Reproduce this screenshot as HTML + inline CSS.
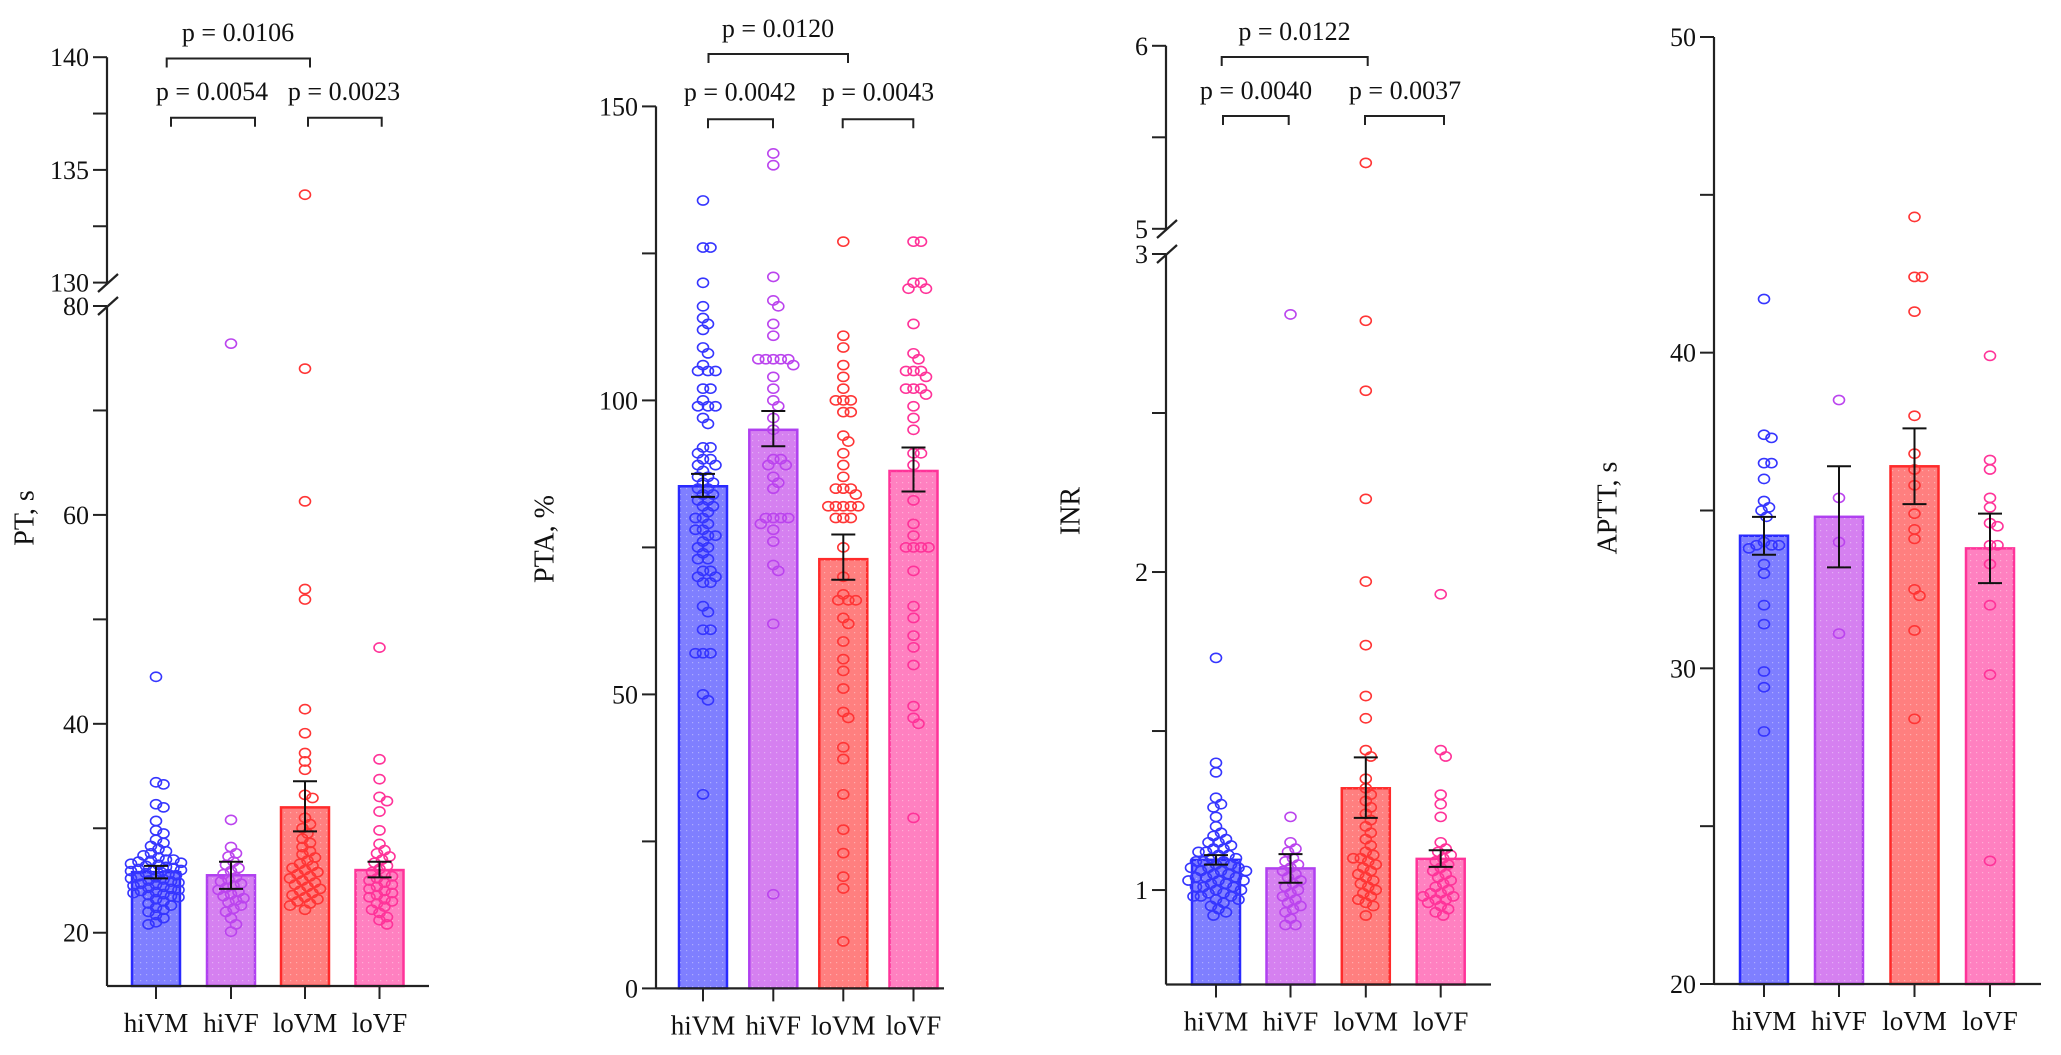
<!DOCTYPE html>
<html><head><meta charset="utf-8"><style>
html,body{margin:0;padding:0;background:#fff;}
svg{display:block;font-family:"Liberation Serif",serif;}
</style></head><body>
<svg id="chart" xmlns="http://www.w3.org/2000/svg" width="2061" height="1055" viewBox="0 0 2061 1055">
<defs>
<pattern id="dots" width="6" height="6" patternUnits="userSpaceOnUse"><rect x="2" y="2" width="1.2" height="1.2" fill="#ffffff" opacity="0.35"/></pattern>
</defs>
</svg>
<script>
const categories = ["hiVM","hiVF","loVM","loVF"];
// PT, s
const ptMeans = [25.8, 25.5, 32.0, 26.0];
const ptErrLo = [25.2, 24.2, 29.7, 25.3];
const ptErrHi = [26.4, 26.8, 34.5, 26.8];
const ptHiVM = [44.5,34.4,34.2,32.3,32.0,30.7,29.8,29.5,28.9,28.6,28.3,28.0,27.8,27.6,27.4,27.2,27.0,27.0,26.9,26.8,26.7,26.6,26.5,26.4,26.3,26.2,26.1,26.0,26.0,25.9,25.8,25.7,25.6,25.5,25.4,25.3,25.2,25.1,25.0,24.9,24.8,24.7,24.6,24.5,24.4,24.3,24.2,24.1,24.0,23.9,23.8,23.7,23.6,23.5,23.4,23.2,23.0,22.8,22.6,22.4,22.2,22.0,21.7,21.4,21.0,20.8];
const ptHiVF = [76.4,30.8,28.2,27.6,27.3,26.8,26.5,26.2,25.9,25.6,25.3,25.1,24.9,24.7,24.5,24.3,24.1,23.9,23.7,23.5,23.3,23.1,22.9,22.6,22.3,22.0,21.4,20.8,20.1];
const ptLoVM = [133.9,74.0,61.3,52.9,51.9,41.4,39.1,37.2,36.4,35.6,33.2,32.9,31.0,30.4,30.0,29.5,29.0,28.6,28.2,27.8,27.5,27.2,26.9,26.6,26.4,26.2,26.0,25.8,25.6,25.4,25.2,25.0,24.8,24.6,24.4,24.2,24.0,23.8,23.6,23.4,23.2,23.0,22.8,22.6,22.2];
const ptLoVF = [47.3,36.6,34.7,33.0,32.6,31.6,29.8,28.5,27.9,27.6,27.3,27.0,26.7,26.4,26.1,25.8,25.6,25.4,25.2,25.0,24.8,24.6,24.4,24.2,24.0,23.8,23.6,23.4,23.2,23.0,22.8,22.5,22.2,21.9,21.5,21.2,20.8];
// PTA, %
const ptaMeans = [85.4, 95.0, 73.0, 88.0];
const ptaErrLo = [83.6, 92.2, 69.5, 84.5];
const ptaErrHi = [87.5, 98.2, 77.2, 92.0];
const ptaHiVM = [134,126,126,120,116,114,112,113,109,108,106,105,105,105,102,102,100,99,99,99,97,96,92,92,91,90,90,89,89,88,87,87,86,86,85,85,84,84,83,83,82,82,81,80,80,79,78,78,77,77,76,75,75,74,73,73,71,71,70,70,69,69,65,64,61,61,57,57,57,50,49,33];
const ptaHiVF = [142,140,121,117,116,113,111,107,107,107,107,107,106,104,102,100,99,97,95,90,90,89,89,87,86,85,80,80,80,80,79,78,76,72,71,62,16];
const ptaLoVM = [127,111,109,106,104,102,100,100,100,98,98,94,93,91,89,87,85,85,85,84,82,82,82,82,82,80,80,80,75,70,67,66,66,66,63,62,59,56,54,51,47,46,41,39,33,27,23,19,17,8];
const ptaLoVF = [127,127,120,120,119,119,113,108,107,105,105,105,104,102,102,102,101,99,97,95,91,91,89,83,79,77,75,75,75,75,71,65,63,60,58,55,48,46,45,29];
// INR
const inrMeans = [1.095, 1.068, 1.32, 1.098];
const inrErrLo = [1.08, 1.023, 1.227, 1.073];
const inrErrHi = [1.11, 1.113, 1.417, 1.125];
const inrHiVM = [1.73,1.40,1.37,1.29,1.27,1.26,1.23,1.20,1.18,1.17,1.16,1.15,1.15,1.14,1.13,1.12,1.12,1.11,1.10,1.10,1.09,1.09,1.08,1.08,1.07,1.07,1.06,1.06,1.05,1.05,1.04,1.04,1.03,1.03,1.02,1.02,1.01,1.01,1.00,1.00,0.99,0.99,0.98,0.98,0.97,0.97,0.96,0.95,0.94,0.93,0.92,1.11,1.13,1.06,1.04,1.01,0.98,1.09,1.07,1.03];
const inrHiVF = [2.81,1.23,1.15,1.13,1.12,1.10,1.09,1.08,1.07,1.06,1.05,1.04,1.03,1.02,1.01,1.00,0.99,0.98,0.97,0.96,0.95,0.94,0.93,0.91,0.89,0.89];
const inrLoVM = [5.36,2.79,2.57,2.23,1.97,1.77,1.61,1.54,1.44,1.42,1.35,1.32,1.30,1.28,1.26,1.24,1.22,1.20,1.18,1.16,1.14,1.12,1.11,1.10,1.10,1.09,1.08,1.07,1.06,1.05,1.04,1.03,1.02,1.01,1.00,0.99,0.98,0.97,0.96,0.95,0.92];
const inrLoVF = [1.93,1.44,1.42,1.30,1.27,1.23,1.15,1.13,1.12,1.11,1.10,1.09,1.08,1.07,1.06,1.05,1.04,1.03,1.02,1.01,1.00,0.99,0.99,0.98,0.98,0.97,0.97,0.96,0.95,0.94,0.93,0.92];
// APTT, s
const apttMeans = [34.2, 34.8, 36.4, 33.8];
const apttErrLo = [33.6, 33.2, 35.2, 32.7];
const apttErrHi = [34.8, 36.4, 37.6, 34.9];
const apttHiVM = [41.7,37.4,37.3,36.5,36.5,36.0,35.3,35.1,35.0,34.8,34.0,33.9,33.9,33.9,33.8,33.3,33.0,32.0,31.4,29.9,29.4,28.0];
const apttHiVF = [38.5,35.4,34.0,31.1];
const apttLoVM = [44.3,42.4,42.4,41.3,38.0,36.8,36.3,35.8,34.9,34.4,34.1,32.5,32.3,31.2,28.4];
const apttLoVF = [39.9,36.6,36.3,35.4,35.1,34.6,34.5,33.9,33.9,33.3,32.0,29.8,23.9];

const fills = ["#7f7fff","#d580f0","#ff7f7f","#ff80c0"];
const strokes = ["#2a2aff","#b040f0","#ff2a2a","#ff3399"];
const dotCols = ["#3535ff","#bb44ee","#ff3535","#ff3399"];

const svg = document.getElementById('chart');
const NS = "http://www.w3.org/2000/svg";
function mk(tag, attrs, parent){ const e=document.createElementNS(NS,tag); for(const k in attrs) e.setAttribute(k,attrs[k]); (parent||svg).appendChild(e); return e; }

const panels = [
 {name:"pt", title:"PT, s", titleX:25, titleY:518, axisX:107, xEnd:429, centers:[156,231,305,379.5],
  segs:[{v0:14.9,v1:80,y0:986,y1:306},{v0:130,v1:140,y0:282.6,y1:57.2}],
  major:[20,40,60,80,130,135,140], minor:[30,50,70,132.5,137.5], breakY:[283,306],
  means:ptMeans, lo:ptErrLo, hi:ptErrHi, pts:[ptHiVM,ptHiVF,ptLoVM,ptLoVF],
  brackets:[{x1:166.7,x2:310,y:58.5,t:"p = 0.0106",tx:238,ty:41},{x1:171,x2:255,y:117.8,t:"p = 0.0054",tx:212,ty:100},{x1:308,x2:381.7,y:117.8,t:"p = 0.0023",tx:344,ty:100}]},
 {name:"pta", title:"PTA, %", titleX:545, titleY:539, axisX:656, xEnd:944, centers:[703,773.3,843.3,913.5],
  segs:[{v0:0,v1:150,y0:988.4,y1:106.4}],
  major:[0,50,100,150], minor:[25,75,125], breakY:[],
  means:ptaMeans, lo:ptaErrLo, hi:ptaErrHi, pts:[ptaHiVM,ptaHiVF,ptaLoVM,ptaLoVF],
  brackets:[{x1:708.5,x2:848,y:54,t:"p = 0.0120",tx:778,ty:37},{x1:708,x2:773,y:119.3,t:"p = 0.0042",tx:740,ty:100.5},{x1:842.7,x2:913.3,y:119.3,t:"p = 0.0043",tx:878,ty:100.5}]},
 {name:"inr", title:"INR", titleX:1071, titleY:511, axisX:1166, xEnd:1491, centers:[1216,1290.5,1365.8,1440.7],
  segs:[{v0:0.703,v1:3,y0:984.5,y1:254},{v0:5,v1:6,y0:228.8,y1:45.8}],
  major:[1,2,3,5,6], minor:[1.5,2.5,5.5], breakY:[229,254],
  means:inrMeans, lo:inrErrLo, hi:inrErrHi, pts:[inrHiVM,inrHiVF,inrLoVM,inrLoVF],
  brackets:[{x1:1221.7,x2:1367.7,y:57,t:"p = 0.0122",tx:1294.5,ty:40},{x1:1223,x2:1288.7,y:116,t:"p = 0.0040",tx:1256,ty:99},{x1:1365,x2:1444,y:116,t:"p = 0.0037",tx:1405,ty:99}]},
 {name:"aptt", title:"APTT, s", titleX:1608, titleY:508, axisX:1714, xEnd:2041, centers:[1764,1839,1914.5,1990],
  segs:[{v0:20,v1:50,y0:984,y1:37}],
  major:[20,30,40,50], minor:[25,35,45], breakY:[],
  means:apttMeans, lo:apttErrLo, hi:apttErrHi, pts:[apttHiVM,apttHiVF,apttLoVM,apttLoVF],
  brackets:[]}
];

function yScale(p, v){
  let s = p.segs[0];
  for(const sg of p.segs){ if(v >= sg.v0) s = sg; }
  return s.y0 + (v - s.v0) * (s.y1 - s.y0) / (s.v1 - s.v0);
}

panels.forEach(p=>{
  const g = mk('g',{});
  
  
  p.means.forEach((m,i)=>{
    const cx=p.centers[i], bw=48, yb=yScale(p,m), y0=p.segs[0].y0;
    const r = mk('rect',{x:cx-bw/2,y:yb,width:bw,height:y0-yb,fill:fills[i],stroke:strokes[i],'stroke-width':2.5},g);
    
    
    mk('rect',{x:cx-bw/2,y:yb,width:bw,height:y0-yb,fill:'url(#dots)'},g);
  });
  p.pts.forEach((arr,i)=>{
    const cx=p.centers[i], rad=5.2, placed=[];
    const sorted=[...arr].sort((a,b)=>b-a);
    sorted.forEach(v=>{
      const y=yScale(p,v);
      let off=0, best=null;
      for(let k=0;k<25;k++){
        const cand = (k%2?1:-1)*Math.ceil(k/2)*2.5;
        if(Math.abs(cand)>30) break;
        const ok = placed.every(q=>{const dx=q.x-cand, dy=q.y-y; return dx*dx+dy*dy >= (2*rad)*(2*rad)*0.45;});
        if(ok){best=cand;break;}
      }
      if(best===null){ best = ((placed.length%7)-3)*8; }
      off=best;
      placed.push({x:off,y:y});
      const c = mk('ellipse',{cx:cx+off,cy:y,rx:5.5,ry:4.6,fill:'none',stroke:dotCols[i],'stroke-width':1.6},g);
      
      
    });
  });
  p.means.forEach((m,i)=>{
    const cx=p.centers[i], yl=yScale(p,p.lo[i]), yh=yScale(p,p.hi[i]);
    const e = mk('path',{d:`M${cx},${yl}V${yh}M${cx-12},${yl}H${cx+12}M${cx-12},${yh}H${cx+12}`,stroke:'#111',fill:'none','stroke-width':2},g);
    
    
  });
  const ax = p.axisX;
  let d='';
  if(p.segs.length===1){ d=`M${ax},${p.segs[0].y0}V${p.segs[0].y1}`; }
  else { d=`M${ax},${p.segs[0].y0}V${p.segs[0].y1}M${ax},${p.segs[1].y0}V${p.segs[1].y1}`; }
  const yAxis = mk('path',{d:d,stroke:'#222',fill:'none','stroke-width':2.2},g);
  
  
  p.breakY.forEach(by=>{
    const b = mk('line',{x1:ax-9,y1:by+9,x2:ax+11,y2:by-9,stroke:'#222','stroke-width':2.2},g);
    
    
  });
  const xAxis = mk('line',{x1:ax,y1:p.segs[0].y0,x2:p.xEnd,y2:p.segs[0].y0,stroke:'#222','stroke-width':2.2},g);
  
  
  p.major.forEach(v=>{
    const y=yScale(p,v);
    mk('line',{x1:ax-14,y1:y,x2:ax,y2:y,stroke:'#222','stroke-width':2},g);
    const t = mk('text',{x:ax-18,y:y+9,'text-anchor':'end','font-size':26,fill:'#111'},g);
    t.textContent = String(v);
    
    
  });
  p.minor.forEach(v=>{
    const y=yScale(p,v);
    mk('line',{x1:ax-14,y1:y,x2:ax,y2:y,stroke:'#222','stroke-width':2},g);
  });
  categories.forEach((c,i)=>{
    const cx=p.centers[i], y0=p.segs[0].y0;
    mk('line',{x1:cx,y1:y0,x2:cx,y2:y0+13,stroke:'#222','stroke-width':2},g);
    const t = mk('text',{x:cx,y:y0+46,'text-anchor':'middle','font-size':27,fill:'#111'},g);
    t.textContent=c;
    
    
  });
  const tt = mk('text',{x:p.titleX,y:p.titleY,'text-anchor':'middle','font-size':28,fill:'#111',transform:`rotate(-90 ${p.titleX} ${p.titleY})`,'dominant-baseline':'central'},g);
  tt.textContent=p.title;
  
  
  p.brackets.forEach(b=>{
    const br = mk('path',{d:`M${b.x1},${b.y+9}V${b.y}H${b.x2}V${b.y+9}`,stroke:'#222',fill:'none','stroke-width':2},g);
    
    
    const t = mk('text',{x:b.tx,y:b.ty,'text-anchor':'middle','font-size':26,fill:'#111'},g);
    t.textContent=b.t;
    
    
  });
});
</script>
</body></html>
